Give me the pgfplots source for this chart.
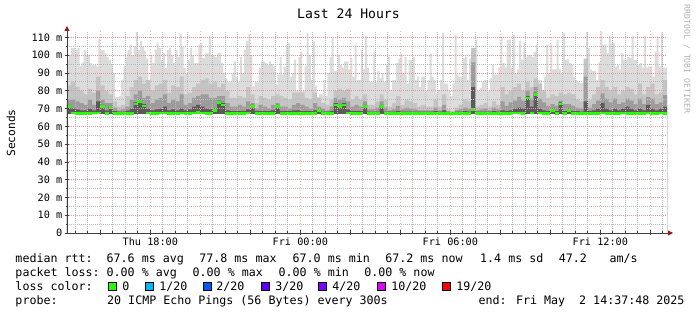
\documentclass[border=0pt]{standalone}
\usepackage{fontspec}
\setmainfont{DejaVu Sans Mono}
\usepackage{pgfplots}
\pgfplotsset{compat=1.18}
\usepackage{pgfplotstable}
\usetikzlibrary{arrows.meta}

\definecolor{smokeA}{HTML}{DCDCDC}
\definecolor{smokeB}{HTML}{C4C4C4}
\definecolor{smokeC}{HTML}{9C9C9C}
\definecolor{smokeD}{HTML}{5A5A5A}
\definecolor{mgrid}{RGB}{234,150,150}
\definecolor{ngrid}{RGB}{185,185,185}
\definecolor{axiscol}{HTML}{404040}
\definecolor{arrowcol}{HTML}{A01818}
\definecolor{lossA}{HTML}{26FF00}
\definecolor{lossB}{HTML}{00B8FF}
\definecolor{lossC}{HTML}{0059FF}
\definecolor{lossD}{HTML}{5E00FF}
\definecolor{lossE}{HTML}{7E00FF}
\definecolor{lossF}{HTML}{DD00FF}
\definecolor{lossG}{HTML}{FF0000}

% x in 10-minute slots from Thu 14:40 (0.5 = 5 min); L1 = max rtt of the 5-min step (ms)
\pgfplotstableread{
x L1
0 97.5
0.5 100
1 104
1.5 104
2 103
2.5 104
3 94
3.5 96
4 103
4.5 100
5 100
5.5 95.6
6 94.6
6.5 94.6
7 93.7
7.5 109
8 103
8.5 103
9 101
9.5 99
10 97.5
10.5 94.6
11 90
11.5 76.5
12 76.5
12.5 77
13 86
13.5 93.7
14 99
14.5 103
15 106
15.5 100
16 105
16.5 113
17 103
17.5 108
18 105
18.5 102.5
19 98
19.5 86
20 100
20.5 95.6
21 103
21.5 107
22 104
22.5 97.5
23 101
23.5 92.8
24 103
24.5 104
25 100
25.5 95.6
26 103
26.5 99
27 112
27.5 105
28 92.8
28.5 90
29 97.5
29.5 104
30 100
30.5 95.6
31 95.6
31.5 106
32 107
32.5 98.4
33 101
33.5 101
34 110.6
34.5 100
35 100
35.5 99
36 101
36.5 101
37 95.6
37.5 90
38 87
38.5 85
39 85
39.5 90
40 96.5
40.5 88
41 85
41.5 99
42 90
42.5 103
43 108
43.5 112
44 100
44.5 82.5
45 85
45.5 85
46 93
46.5 96.5
47 96.5
47.5 95.6
48 94.6
48.5 96.5
49 95
49.5 93.7
50 83.5
50.5 89
51 99
51.5 89
52 93.7
52.5 106
53 106.8
53.5 88
54 90
54.5 97.5
55 80
55.5 99
56 102
56.5 80
57 94
57.5 112.5
58 100
58.5 86
59 108
59.5 83
60 76.5
60.5 78
61 78
61.5 86
62 77
62.5 90
63 99
63.5 109.6
64 91
64.5 91
65 100
65.5 94.6
66 93
66.5 96.5
67 96.5
67.5 92
68 98.4
68.5 88
69 106
69.5 86
70 86
70.5 103
71 92
71.5 110.6
72 93
72.5 85
73 85
73.5 102
74 85
74.5 91
75 87
75.5 90
76 85
76.5 95
77 99
77.5 80.6
78 86
78.5 86
79 95.6
79.5 98
80 101
80.5 90
81 99
81.5 84
82 97.5
82.5 97.5
83 99
83.5 86
84 88
84.5 82
85 88
85.5 88
86 80
86.5 86
87 101
87.5 88
88 86
88.5 78.8
89 80.6
89.5 86
90 112.5
90.5 84
91 84
91.5 80
92 77
92.5 84
93 111.5
93.5 89
94 88
94.5 88
95 98.4
95.5 99
96 86
96.5 98
97 98
97.5 104
98 108.7
98.5 80
99 81.6
99.5 85
100 86
100.5 86
101 80
101.5 87
102 94.6
102.5 89
103 89
103.5 93
104 110.6
104.5 95.6
105 93
105.5 108.7
106 108.7
106.5 93
107 111.5
107.5 90
108 92
108.5 108
109 97.5
109.5 106.8
110 99
110.5 100
111 100
111.5 99
112 102
112.5 106
113 86
113.5 86
114 80.6
114.5 88
115 106
115.5 90
116 106
116.5 92
117 92
117.5 108.7
118 92
118.5 90
119 112.5
119.5 97.5
120 97.5
120.5 95.6
121 94.6
121.5 88
122 86
122.5 85
123 84.4
123.5 84.4
124 92
124.5 113
125 104
125.5 92
126 91
126.5 91
127 86
127.5 96
128 113
128.5 106
129 106
129.5 101
130 110.6
130.5 106.8
131 106.8
131.5 93.7
132 94.6
132.5 92
133 101
133.5 97.5
134 97.5
134.5 99
135 98.4
135.5 110.6
136 97.5
136.5 97.5
137 94.6
137.5 95.6
138 93
138.5 110.6
139 93
139.5 93.7
140 93.7
140.5 88
141 102
141.5 110.6
142 93.7
142.5 112.5
143 93
143.5 93
144 93
}\smokemax

% k = 10-minute slot; L2..L4 = inner smoke layer tops (ms); med = median rtt (ms)
\pgfplotstableread{
k L2 L3 L4 med
0 83 75 72 71
1 85 75 70 67.4
2 82 74 69.5 67.3
3 80 73 69 67.3
4 78 72 69 67.2
5 81 75 70 67.3
6 79 72 69 67.5
7 88 80 74 67.4
8 83 75 72 71
9 80 73 69 67.2
10 78 73 71.5 70.5
11 74 70.5 68.5 67.2
12 71 69 68.3 67.2
13 72 69.5 68.3 67.3
14 77 71 68.8 67.2
15 82 75 70 67.3
16 86 78 73.5 72.5
17 88 80 75 73.8
18 84 76 72.5 71.5
19 86 77 70 67.4
20 80 73 69 67.3
21 83 75 69.5 67.2
22 84 76 70 67.4
23 86 78 71 67.5
24 79 73 69 67.3
25 83 75 69.5 67.2
26 82 74 69 67.3
27 88 78 70 67.4
28 78 72 69 67.2
29 79 73 69.5 67.3
30 82 76 71 67.5
31 84 77 72 67.6
32 86 78 71 67.4
33 87 78 70 67.3
34 84 76 69.5 67.3
35 85 76 70 69
36 82 77 74.5 73.5
37 84 77 73 72
38 80 73 69 67.3
39 76 71 68.5 67.2
40 76 71 68.5 67.2
41 77 72 68.5 67.3
42 76 71 68.5 67.2
43 82 74 69.5 67.4
44 78 73 72 71
45 73 70 68.5 67.2
46 77 72 68.5 67.3
47 76 71 68.5 67.2
48 75 70 68.5 67.2
49 77 72 69 67.3
50 78 73 72 71
51 77 71 68.5 67.2
52 76 71 68.5 67.2
53 75 70 68.5 67.3
54 79 72 69 67.3
55 79 73 69 67.2
56 79 72 68.5 67.2
57 76 71 68.5 67.3
58 75 70 68.5 67.2
59 79 73 69 67.3
60 76 71 70 69
61 73 70 68.3 67.2
62 72 69 68.3 67.2
63 75 71 68.5 67.3
64 80 76 73 72
65 81 75 72 71
66 80 76 73 72
67 81 74 69.5 67.4
68 75 71 68.5 67.3
69 77 72 68.5 67.2
70 75 71 68.5 67.2
71 78 74 72 71
72 72 69.5 68.3 67.2
73 72 69.5 68.3 67.2
74 74 70.5 68.3 67.3
75 78 74 72 71
76 75 70.5 68.3 67.2
77 71 69 68.3 67.2
78 73 69.5 68.3 67.2
79 77 71.5 68.5 67.3
80 72 69.5 68.3 67.2
81 75 70.5 68.3 67.2
82 74 70 68.3 67.2
83 73 69.5 68.3 67.3
84 71 69 68.3 67.2
85 72 69 68.3 67.2
86 71 69 68.3 67.2
87 71 69 68.3 67.2
88 75 70.5 68.5 67.2
89 71 69 68.3 67.2
90 78 72 69 67.3
91 69.5 68.5 68 67.2
92 68.5 68 67.8 67.2
93 70.5 69 68.2 67.2
94 72 69.5 68.3 67.2
95 75 70.5 68.5 67.3
96 74 70 68.3 67.2
97 104 96 82 69.5
98 71 69 68.3 67.2
99 72 69.5 68.3 67.2
100 73 70 68.3 67.2
101 71 69 68.3 67.2
102 74 70.5 68.5 67.3
103 72 69.5 68.3 67.2
104 82 74 69 67.3
105 78 71.5 68.5 67.2
106 80 73.5 69 67.3
107 82 74.5 70 67.4
108 84 76.5 70.5 67.4
109 80 74.5 70 67.3
110 85 80 77 76
111 82 75.5 71 67.5
112 87 82 79 78
113 84 75.5 70 67.4
114 80 73.5 69 67.3
115 76 71.5 68.5 67.2
116 78 72.5 70 69
117 77 71.5 68.5 67.3
118 79 74.5 73.5 72.5
119 78 72.5 68.5 67.3
120 79 72.5 70 69
121 78 71.5 68.5 67.2
122 75 70.5 68.5 67.2
123 74 70 68.3 67.2
124 98 88 74 67.3
125 75 70.5 68.5 67.2
126 78 72.5 69 67.2
127 82 74.5 70 67.3
128 86 78.5 73 67.4
129 82 75.5 70 67.3
130 80 73.5 69 67.2
131 82 75.5 70 67.3
132 78 72.5 69 67.2
133 80 73.5 70 67.5
134 82 75.5 71 67.3
135 81 74.5 70 67.2
136 78 72.5 69 67.2
137 84 75.5 70 67.3
138 78 72.5 69 67.2
139 82 76.5 72 67.4
140 84 75.5 70 67.3
141 78 72.5 69 67.2
142 79 73.5 70 67.5
143 86 77.5 71 67.2
144 86 77.5 71 67.2
}\smoke

\newcommand{\legfont}{\fontsize{11.65}{14}\selectfont}

\begin{document}
\begin{tikzpicture}
\useasboundingbox (0pt,0pt) rectangle (697pt,315pt);
\begin{axis}[
  at={(67pt,82pt)}, anchor=south west,
  scale only axis, width=600pt, height=202pt,
  xmin=0, xmax=144, ymin=0, ymax=113.6,
  axis lines=left,
  axis on top,
  axis line style={axiscol, line width=0.8pt},
  x axis line style={-{Triangle[length=5pt,width=5pt,color=arrowcol]}, shorten >=-6pt},
  y axis line style={-{Triangle[length=5pt,width=5pt,color=arrowcol]}, shorten >=-5pt},
  xtick={8,20,...,140},
  xticklabels={,Thu 18:00,,,Fri 00:00,,,Fri 06:00,,,Fri 12:00,},
  minor xtick={2,5,11,14,17,23,26,29,35,38,41,47,50,53,59,62,65,71,74,77,83,86,89,95,98,101,107,110,113,119,122,125,131,134,137,143},
  ytick={0,10,...,110},
  yticklabels={0,10 m,20 m,30 m,40 m,50 m,60 m,70 m,80 m,90 m,100 m,110 m},
  minor ytick={5,15,...,105},
  grid=both,
  major grid style={mgrid, line width=0.8pt, dash pattern=on 1pt off 1pt},
  minor grid style={ngrid, line width=0.8pt, dash pattern=on 1pt off 1pt},
  major x grid style={color=mgrid!75, line width=0.7pt, dash pattern=on 1pt off 2pt},
  tick align=center,
  major tick length=5pt, minor tick length=3pt,
  tick style={axiscol, line width=0.7pt},
  xticklabel style={font=\fontsize{10.2}{12}\selectfont, anchor=north, inner sep=0pt, yshift=-2pt},
  yticklabel style={font=\fontsize{10.2}{12}\selectfont, anchor=east, inner sep=0pt, xshift=-2pt},
  clip=true,
]
\addplot[const plot, fill=smokeA, draw=none] table[x=x,y=L1]{\smokemax} \closedcycle;
\addplot[const plot, fill=smokeB, draw=none] table[x=k,y=L2]{\smoke} \closedcycle;
\addplot[const plot, fill=smokeC, draw=none] table[x=k,y=L3]{\smoke} \closedcycle;
\addplot[const plot, fill=smokeD, draw=none] table[x=k,y=L4]{\smoke} \closedcycle;
\addplot[fill=white, draw=none] coordinates {(0,66.8) (144,66.8)} \closedcycle;
\addplot[jump mark left, draw=lossA, line width=2.6pt] table[x=k,y=med]{\smoke};
\end{axis}

\node[font=\fontsize{13.1}{15}\selectfont, anchor=base] at (348.5pt,296.2pt) {Last 24 Hours};
\node[font=\fontsize{11.2}{13}\selectfont, rotate=90, anchor=center] at (11pt,182pt) {Seconds};
\node[font=\fontsize{8.2}{10}\selectfont, rotate=-90, anchor=center, text=black!30] at (687pt,256pt) {RRDTOOL / TOBI OETIKER};

\begin{scope}[every node/.style={anchor=base west, inner sep=0pt, font=\legfont}]
\node at (15.3pt,52pt) {median rtt:};
\node at (106.5pt,52pt) {67.6 ms avg};
\node at (199.2pt,52pt) {77.8 ms max};
\node at (292.5pt,52pt) {67.0 ms min};
\node at (385.2pt,52pt) {67.2 ms now};
\node at (480pt,52pt) {1.4 ms sd};
\node at (558.7pt,52pt) {47.2};
\node at (609.5pt,52pt) {am/s};

\node at (15.3pt,38.3pt) {packet loss:};
\node at (106.5pt,38.3pt) {0.00 \% avg};
\node at (192.5pt,38.3pt) {0.00 \% max};
\node at (278.5pt,38.3pt) {0.00 \% min};
\node at (364.2pt,38.3pt) {0.00 \% now};

\node at (15.3pt,24.3pt) {loss color:};
\node at (122.2pt,24.3pt) {0};
\node at (159.2pt,24.3pt) {1/20};
\node at (216.2pt,24.3pt) {2/20};
\node at (275.2pt,24.3pt) {3/20};
\node at (332.2pt,24.3pt) {4/20};
\node at (391.2pt,24.3pt) {10/20};
\node at (456.2pt,24.3pt) {19/20};

\node at (15.3pt,10.5pt) {probe:};
\node at (107pt,10.5pt) {20 ICMP Echo Pings (56 Bytes) every 300s};
\node at (478.5pt,10.5pt) {end: Fri May~~2 14:37:48 2025};
\end{scope}

\begin{scope}[line width=0.8pt, draw=black]
\filldraw[fill=lossA] (108.7pt,24.3pt) rectangle (116.7pt,32.3pt);
\filldraw[fill=lossB] (145.7pt,24.3pt) rectangle (153.7pt,32.3pt);
\filldraw[fill=lossC] (203pt,24.3pt) rectangle (211pt,32.3pt);
\filldraw[fill=lossD] (261pt,24.3pt) rectangle (269pt,32.3pt);
\filldraw[fill=lossE] (318pt,24.3pt) rectangle (326pt,32.3pt);
\filldraw[fill=lossF] (377pt,24.3pt) rectangle (385pt,32.3pt);
\filldraw[fill=lossG] (442pt,24.3pt) rectangle (450pt,32.3pt);
\end{scope}
\end{tikzpicture}
\end{document}
